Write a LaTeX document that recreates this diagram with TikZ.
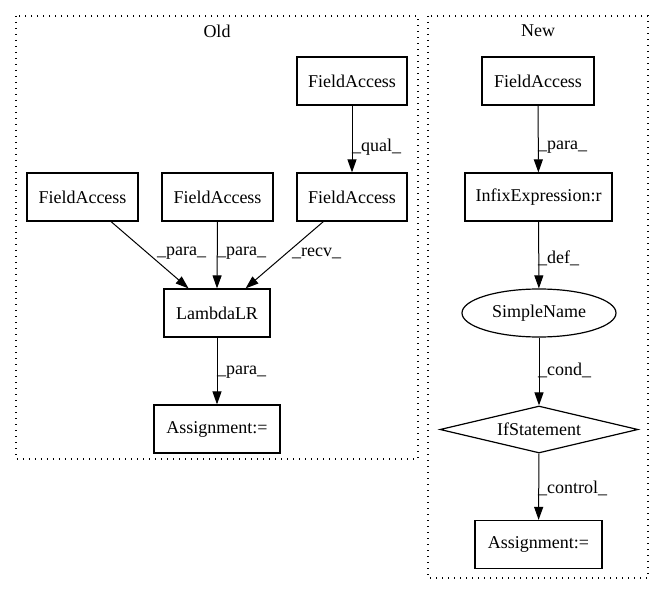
\documentclass[tikz,border=0pt]{standalone}
\usepackage{fontspec}
\setmainfont{Liberation Serif}
\usetikzlibrary{arrows.meta,shapes.geometric}
\begin{document}
\begin{tikzpicture}[x=1pt,y=-1pt,
  every node/.style={font=\fontsize{18}{21}\selectfont},
  box/.style={draw, rectangle, minimum width=#1, minimum height=48, inner sep=0, line width=1.2},
  oval/.style={draw, ellipse, minimum width=154, minimum height=48, inner sep=0, line width=1.2},
  dia/.style={draw, diamond, shape aspect=4.2, minimum width=198, minimum height=47, inner sep=0, line width=1.2},
  edge/.style={draw, line width=1.0, -{Triangle[length=13,width=9]}},
  lbl/.style={anchor=west, inner sep=0},
  cluster/.style={draw, line width=1.3, dash pattern=on 1.4pt off 4.6pt}
]
\useasboundingbox (0,0) rectangle (664,596);
% clusters
\draw[cluster] (16,16) rectangle (418,459);
\draw[cluster] (428,16) rectangle (648,578);
\node (oldlbl) at (217,31) {Old};
\node (newlbl) at (538,31) {New};
% Old
\node[box=110] (fa1) at (352,81) {FieldAccess};
\node[box=111] (fa2) at (82.5,197) {FieldAccess};
\node[box=111] (fa3) at (217.5,197) {FieldAccess};
\node[box=110] (fa4) at (352,197) {FieldAccess};
\node[box=106] (lam) at (217,313) {LambdaLR};
\node[box=126] (asg1) at (217,429) {Assignment:=};
\draw[edge] (fa1) -- (fa4);
\draw[edge] (fa2) -- (lam);
\draw[edge] (fa3.south) -- (lam.north);
\draw[edge] (fa4) -- (lam);
\draw[edge] (lam) -- (asg1);
\node[lbl] (l1) at (352,147) {\_qual\_};
\node[lbl] (l2) at (157,253) {\_para\_};
\node[lbl] (l3) at (217,253) {\_para\_};
\node[lbl] (l4) at (292,253) {\_recv\_};
\node[lbl] (l5) at (217,372) {\_para\_};
% New
\node[box=112] (nfa) at (538,81) {FieldAccess};
\node[box=147] (inf) at (538.5,197) {InfixExpression:r};
\node[oval] (sn) at (539,313) {SimpleName};
\node[dia] (ifs) at (539,429.5) {IfStatement};
\node[box=127] (asg2) at (538.5,544.5) {Assignment:=};
\draw[edge] (nfa) -- (inf);
\draw[edge] (inf) -- (sn);
\draw[edge] (sn) -- (ifs);
\draw[edge] (ifs) -- (asg2);
\node[lbl] (l6) at (538,147) {\_para\_};
\node[lbl] (l7) at (538,258) {\_def\_};
\node[lbl] (l8) at (538,370) {\_cond\_};
\node[lbl] (l9) at (538,488) {\_control\_};
\end{tikzpicture}
\end{document}
